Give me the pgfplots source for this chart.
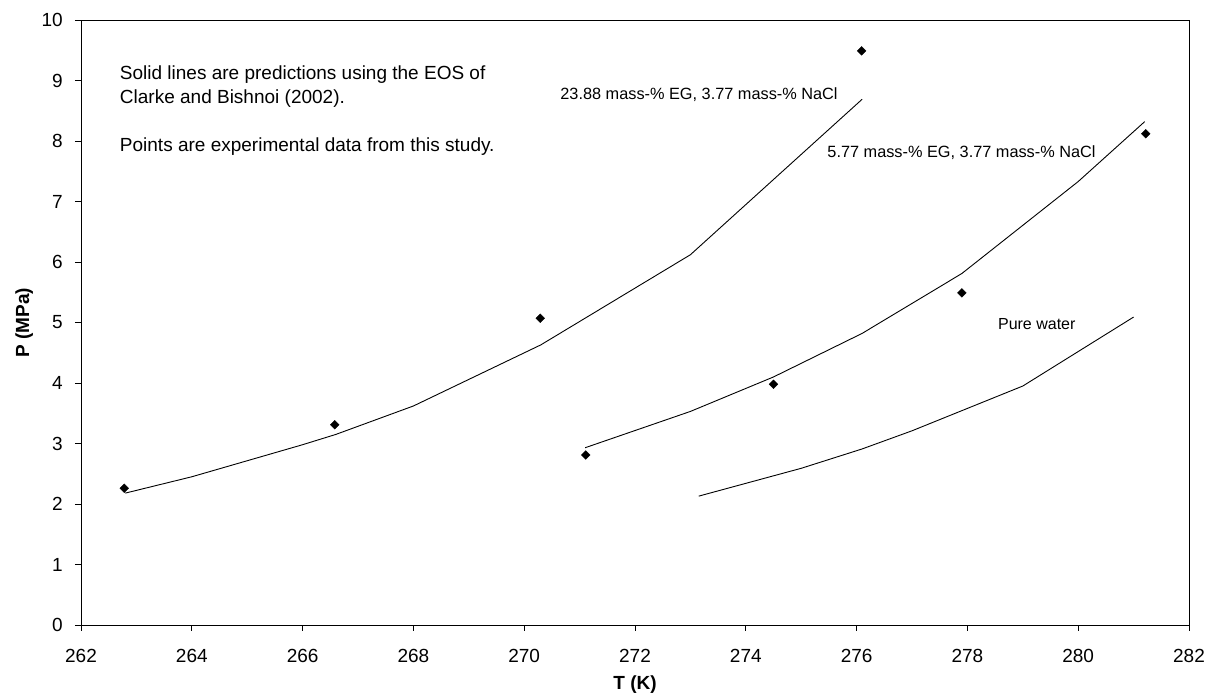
\documentclass[border=0pt]{standalone}
\usepackage{fontspec}
\setmainfont{Liberation Sans}
\usepackage{pgfplots}
\pgfplotsset{compat=1.18}
\pgfplotstableread{
T P
262.8 2.18
264.0 2.45
266.0 2.98
266.6 3.15
268.0 3.62
270.3 4.63
273.0 6.12
276.1 8.69
}\lineA
\pgfplotstableread{
T P
271.1 2.93
273.0 3.53
274.5 4.10
276.1 4.82
277.9 5.81
280.0 7.33
281.2 8.32
}\lineB
\pgfplotstableread{
T P
273.15 2.13
275.0 2.59
276.1 2.91
277.0 3.21
279.0 3.95
281.0 5.09
}\lineC
\pgfplotstableread{
T P
262.78 2.26
266.58 3.31
270.29 5.07
271.11 2.81
274.50 3.98
276.09 9.49
277.90 5.49
281.22 8.12
}\expdata
\begin{document}
\begin{tikzpicture}
\path[use as bounding box] (-81bp,-69bp) rectangle (1126bp,625bp);
\begin{axis}[
  at={(0,0)}, anchor=south west,
  scale only axis, width=1108bp, height=605bp,
  xmin=262, xmax=282, ymin=0, ymax=10,
  xtick={262,264,...,282}, ytick={0,1,...,10},
  tick align=outside, major tick length=6bp,
  xtick pos=bottom, ytick pos=left,
  axis line style={line width=0.9bp},
  every tick/.style={black, line width=0.9bp},
  /pgf/number format/assume math mode=true,
  ticklabel style={font=\fontsize{19bp}{22bp}\selectfont},
  xticklabel style={anchor=base, inner sep=0pt, yshift=-31bp},
  yticklabel style={anchor=east, inner sep=0pt, xshift=-12bp},
  xlabel={T (K)}, ylabel={P (MPa)},
  label style={font=\bfseries\fontsize{19bp}{22bp}\selectfont, inner sep=0pt},
  xlabel style={at={(axis description cs:0.5,-0.1074)}, anchor=base},
  ylabel style={at={(axis description cs:-0.0469,0.5)}, anchor=base},
  clip=false,
]
\addplot[black, line width=0.9bp, mark=none] table[x=T,y=P] {\lineA};
\addplot[black, line width=0.9bp, mark=none] table[x=T,y=P] {\lineB};
\addplot[black, line width=0.9bp, mark=none] table[x=T,y=P] {\lineC};
\addplot[only marks, mark=square*, mark size=3.1bp, mark options={rotate=45, fill=black, draw=black}] table[x=T,y=P] {\expdata};
\begin{scope}[every node/.style={inner sep=0pt, anchor=base west}]
\node[font=\fontsize{19bp}{22bp}\selectfont] at (axis cs:262.70,9.02) {Solid lines are predictions using the EOS of};
\node[font=\fontsize{19bp}{22bp}\selectfont] at (axis cs:262.70,8.62) {Clarke and Bishnoi (2002).};
\node[font=\fontsize{19bp}{22bp}\selectfont] at (axis cs:262.70,7.83) {Points are experimental data from this study.};
\node[font=\fontsize{16.3bp}{19bp}\selectfont] at (axis cs:270.65,8.69) {23.88 mass-\% EG, 3.77 mass-\% NaCl};
\node[font=\fontsize{16.3bp}{19bp}\selectfont] at (axis cs:275.47,7.72) {5.77 mass-\% EG, 3.77 mass-\% NaCl};
\node[font=\fontsize{16bp}{19bp}\selectfont] at (axis cs:278.55,4.88) {Pure water};
\end{scope}
\end{axis}
\end{tikzpicture}
\end{document}
